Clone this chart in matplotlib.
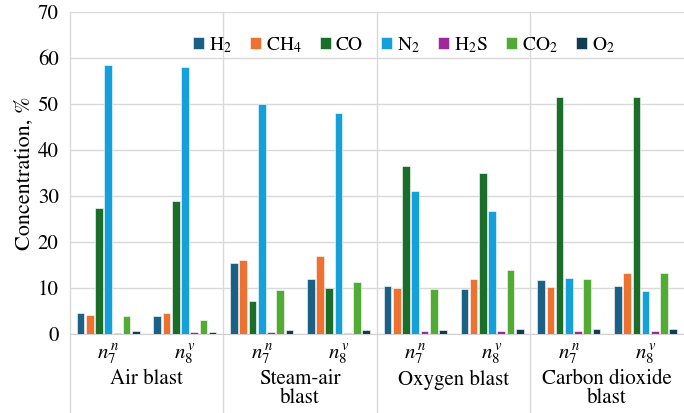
import numpy as np
import matplotlib
matplotlib.use('Agg')
import matplotlib.pyplot as plt
import matplotlib.transforms as mtransforms

plt.rcParams['font.family'] = ['STIXGeneral', 'DejaVu Serif']
plt.rcParams['mathtext.fontset'] = 'stix'

groups = ['Air blast', 'Steam-air\nblast', 'Oxygen blast', 'Carbon dioxide\nblast']
sub_labels = [r'$n_{7}^{\,n}$', r'$n_{8}^{\,v}$']
gases = [r'H$_2$', r'CH$_4$', 'CO', r'N$_2$', r'H$_2$S', r'CO$_2$', r'O$_2$']
colors = ['#1a6185', '#ed7130', '#1b6e2a', '#14a0db', '#a0289a', '#52ab35', '#103d54']

# one row per gas, columns: air n7, air n8, steam n7, steam n8, oxy n7, oxy n8, co2 n7, co2 n8
h2 = [4.5, 4.0, 15.4, 12.0, 10.5, 9.7, 11.7, 10.5]
ch4 = [4.2, 4.5, 16.0, 17.0, 10.0, 12.0, 10.2, 13.2]
co = [27.3, 29.0, 7.2, 10.0, 36.5, 35.0, 51.6, 51.5]
n2 = [58.5, 58.0, 50.0, 48.0, 31.0, 26.8, 12.2, 9.3]
h2s = [0.3, 0.5, 0.5, 0.3, 0.6, 0.6, 0.6, 0.7]
co2 = [4.0, 3.0, 9.5, 11.3, 9.9, 14.0, 12.0, 13.3]
o2 = [0.6, 0.4, 0.8, 0.9, 1.0, 1.2, 1.1, 1.1]
series = [h2, ch4, co, n2, h2s, co2, o2]

fig = plt.figure(figsize=(6.84, 4.13), dpi=100)
ax = fig.add_axes([0.102, 0.191, 0.898, 0.78])

x = np.arange(8)
step = 0.12
for i, vals in enumerate(series):
    ax.bar(x + (i - 3) * step, vals, width=0.1, color=colors[i],
           edgecolor='white', linewidth=0.4, label=gases[i], zorder=3)

ax.set_xlim(-0.5, 7.5)
ax.set_ylim(0, 70)
ax.set_yticks(range(0, 71, 10))
ax.tick_params(axis='y', length=0, labelsize=15, pad=8)
ax.set_xticks([])
ax.grid(axis='y', color='#d9d9d9', linewidth=1, zorder=0)
for s in ['top', 'right', 'left']:
    ax.spines[s].set_visible(False)
ax.spines['bottom'].set_color('#d0d0d0')
ax.set_ylabel('Concentration, %', fontsize=16, labelpad=2)

trans = mtransforms.blended_transform_factory(ax.transData, ax.transAxes)
for xd in [-0.5, 1.5, 3.5, 5.5]:
    ax.plot([xd, xd], [1, -0.245], transform=trans, color='#d9d9d9',
            linewidth=1, clip_on=False, zorder=1)

for k in range(8):
    ax.text(k, -0.065, sub_labels[k % 2], transform=trans, ha='center',
            va='center', fontsize=15)
for g, name in enumerate(groups):
    ax.text(2 * g + 0.5, -0.11, name, transform=trans, ha='center',
            va='top', fontsize=15, linespacing=0.95)

fig.legend(loc='center', bbox_to_anchor=(404 / 684, 1 - 45 / 413), ncol=7,
           frameon=False, fontsize=14, handlelength=0.55, handleheight=0.55,
           handletextpad=0.25, columnspacing=0.95)

fig.savefig('out.png', dpi=100)
